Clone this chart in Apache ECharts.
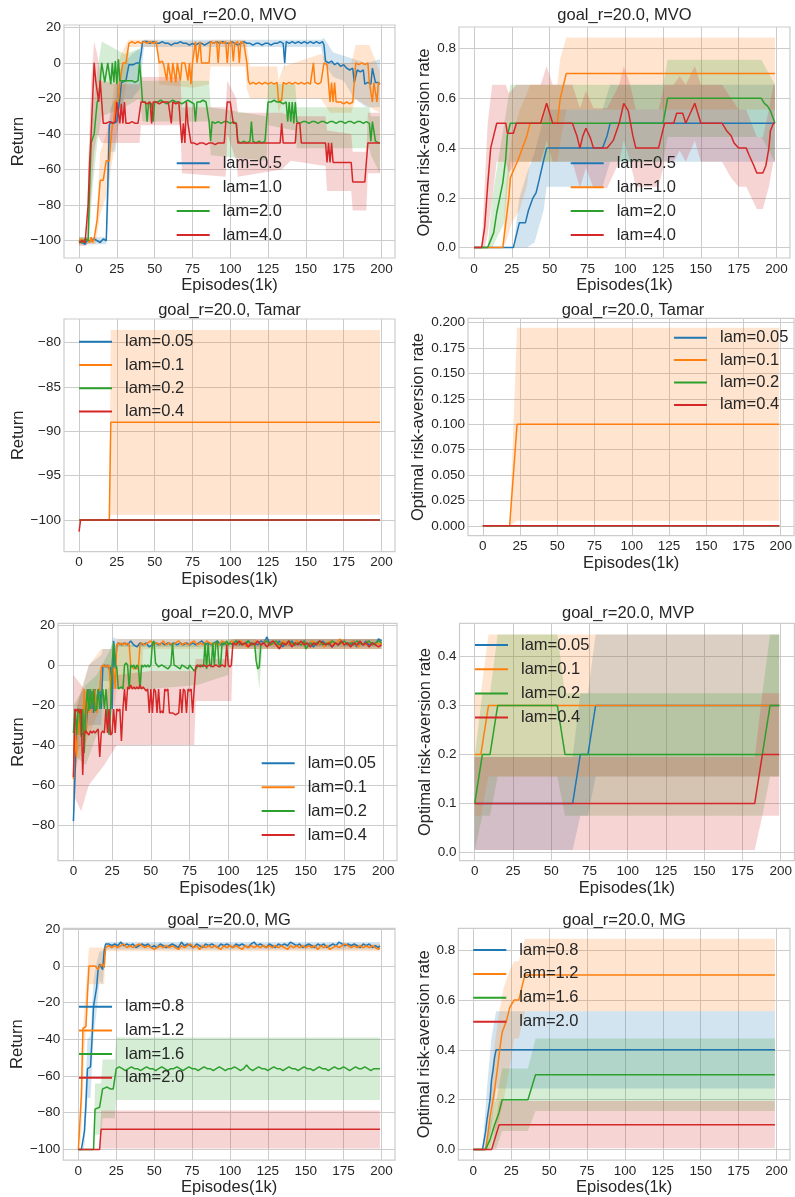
<!DOCTYPE html>
<html><head><meta charset="utf-8">
<script src="https://cdn.jsdelivr.net/npm/echarts@6/dist/echarts.min.js"></script>
<style>html,body{margin:0;padding:0;background:#fff}#c{width:795px;height:1197px}</style>
</head><body><div id="c"></div>
<script>
// ---------------- DATA ----------------
const xTickVals = [0,25,50,75,100,125,150,175,200];
const xTickLabels = ['0','25','50','75','100','125','150','175','200'];
const retTicksA = [-100,-80,-60,-40,-20,0,20];
const retLabelsA = ['\u2212100','\u221280','\u221260','\u221240','\u221220','0','20'];
const retTicksB = [-100,-95,-90,-85,-80];
const retLabelsB = ['\u2212100','\u221295','\u221290','\u221285','\u221280'];
const retTicksC = [-80,-60,-40,-20,0,20];
const retLabelsC = ['\u221280','\u221260','\u221240','\u221220','0','20'];
const rateTicksA = [0,0.2,0.4,0.6,0.8];
const rateLabelsA = ['0.0','0.2','0.4','0.6','0.8'];
const rateTicksB = [0,0.025,0.05,0.075,0.1,0.125,0.15,0.175,0.2];
const rateLabelsB = ['0.000','0.025','0.050','0.075','0.100','0.125','0.150','0.175','0.200'];
const rateTicksC = [0,0.1,0.2,0.3,0.4];
const rateLabelsC = ['0.0','0.1','0.2','0.3','0.4'];

const titles = ['goal_r=20.0, MVO','goal_r=20.0, MVO','goal_r=20.0, Tamar','goal_r=20.0, Tamar','goal_r=20.0, MVP','goal_r=20.0, MVP','goal_r=20.0, MG','goal_r=20.0, MG'];
const lamMVO = ['lam=0.5','lam=1.0','lam=2.0','lam=4.0'];
const lamTamar = ['lam=0.05','lam=0.1','lam=0.2','lam=0.4'];
const lamMVP = ['lam=0.05','lam=0.1','lam=0.2','lam=0.4'];
const lamMG = ['lam=0.8','lam=1.2','lam=1.6','lam=2.0'];

// MVO return
const mvoRet05 = [[0,-100],[1,-99],[2,-101],[3,-100],[4,-102],[5,-100],[6,-101],[8,-100],[10,-99],[12,-100],[14,-101],[16,-99],[18,-100],[19,-70],[20,-35],[21,-33],[23,-34],[25,-33],[26,-33],[27,-20],[28,-11],[29,-10],[31,-10],[32,-9],[33,-1],[34,0],[36,-1],[38,0],[40,0],[41,5],[42,12],[43,11],[45,12],[47,11],[49,12],[51,11],[53,11],[55,12],[57,11],[59,11],[61,10],[63,11],[65,11],[67,12],[69,11],[71,11],[73,10],[75,11],[77,10],[79,11],[81,11],[83,10],[85,11],[86,10],[87,12],[89,11],[91,12],[93,11],[95,12],[97,11],[99,11],[101,12],[103,11],[105,10],[107,11],[109,12],[111,11],[113,11],[115,10],[117,11],[119,11],[121,10],[123,11],[125,11],[127,10],[129,11],[131,11],[133,12],[135,11],[136,0],[137,12],[139,11],[141,12],[143,11],[145,12],[147,11],[149,12],[151,11],[153,12],[155,11],[157,12],[159,11],[161,12],[162,10],[163,1],[165,0],[167,1],[169,-1],[171,0],[173,-2],[175,-1],[177,-3],[179,-4],[181,-3],[182,-11],[183,-10],[184,-4],[186,-5],[188,-4],[189,-12],[191,-11],[193,-12],[194,-3],[195,-2],[196,-11],[197,-12],[198,-11],[199,-12]];
const mvoRet10 = [[0,-100],[1,-101],[2,-99],[3,-101],[4,-100],[5,-99],[6,-100],[7,-101],[8,-98],[9,-101],[10,-99],[11,-100],[12,-88],[13,-88],[14,-66],[16,-66],[17,-66],[18,-55],[19,-54],[20,-55],[21,-44],[22,-35],[23,-33],[24,-22],[25,-22],[26,-21],[27,-11],[28,-10],[29,0],[30,1],[31,0],[32,0],[33,11],[35,12],[37,11],[39,12],[41,11],[43,12],[45,11],[47,12],[49,11],[51,12],[52,11],[53,0],[55,1],[56,-1],[57,0],[58,-10],[59,0],[60,-1],[61,-11],[62,0],[63,-1],[64,-11],[65,0],[66,0],[67,-10],[68,0],[69,-1],[70,0],[72,-10],[73,0],[74,-12],[75,0],[76,1],[77,12],[78,0],[79,0],[80,12],[81,0],[82,1],[84,0],[85,1],[86,0],[87,12],[89,11],[91,12],[92,0],[93,12],[95,11],[97,12],[98,0],[99,11],[101,12],[102,1],[103,11],[105,12],[106,0],[107,12],[109,11],[110,11],[111,0],[112,-10],[113,-12],[115,-11],[117,-12],[119,-11],[121,-12],[123,-11],[125,-12],[127,-11],[129,-12],[131,-11],[132,-22],[133,-22],[134,-21],[135,-11],[137,-12],[139,-11],[141,-12],[143,-11],[145,-12],[147,-11],[149,-12],[151,-11],[153,-12],[154,-11],[155,0],[156,-11],[158,-12],[160,-11],[161,-12],[162,0],[163,0],[164,-1],[165,0],[166,-22],[167,-11],[168,-22],[169,-11],[170,-22],[171,-23],[173,-22],[175,-23],[177,-22],[179,-23],[181,-22],[182,-11],[183,0],[185,-1],[187,0],[189,-1],[191,0],[192,-11],[193,-12],[194,-22],[195,-11],[196,-12],[197,-22],[198,-11],[199,-12]];
const mvoRet20 = [[0,-100],[1,-99],[2,-101],[3,-100],[4,-99],[5,-100],[6,-100],[7,-70],[8,-45],[9,-44],[10,-40],[11,-40],[12,-22],[13,-20],[14,-10],[15,0],[16,1],[17,-11],[18,-12],[19,0],[20,1],[21,-12],[22,0],[23,-11],[24,1],[25,-12],[26,2],[27,-10],[28,-11],[29,-10],[30,-11],[31,-10],[32,-10],[33,-10],[34,-11],[35,-10],[36,-10],[37,-11],[38,-10],[39,-10],[40,0],[41,-10],[42,-22],[44,-22],[45,-33],[46,-22],[48,-23],[49,-33],[50,-22],[52,-22],[54,-21],[56,-22],[58,-23],[60,-22],[62,-21],[64,-22],[66,-22],[68,-23],[70,-22],[72,-21],[74,-22],[76,-23],[77,-33],[78,-22],[80,-22],[82,-21],[84,-22],[85,-22],[86,-33],[87,-44],[88,-33],[90,-34],[92,-33],[94,-34],[96,-33],[98,-33],[100,-34],[102,-33],[104,-34],[105,-44],[107,-45],[109,-44],[111,-45],[113,-44],[114,-33],[115,-44],[117,-45],[119,-44],[121,-45],[123,-44],[124,-45],[125,-22],[127,-22],[129,-21],[131,-22],[133,-22],[135,-23],[137,-22],[138,-33],[139,-22],[140,-33],[141,-22],[142,-34],[143,-22],[144,-33],[146,-34],[148,-33],[150,-33],[152,-34],[154,-33],[156,-33],[158,-34],[160,-33],[162,-33],[164,-34],[166,-33],[168,-33],[170,-34],[172,-33],[174,-33],[176,-34],[178,-33],[180,-33],[182,-34],[184,-33],[186,-33],[188,-34],[190,-33],[192,-34],[193,-44],[194,-33],[195,-34],[196,-44],[197,-45],[198,-45],[199,-45]];
const mvoRet40 = [[0,-101],[1,-101],[2,-100],[3,-101],[4,-101],[5,-100],[6,-80],[7,-56],[8,-40],[9,-20],[10,0],[11,-10],[12,-11],[13,-22],[14,-10],[15,-22],[16,-34],[17,-33],[18,-34],[19,-34],[20,-33],[21,-34],[22,-34],[23,-33],[24,-33],[25,-22],[26,-22],[27,-34],[28,-23],[29,-34],[30,-22],[31,-34],[32,-34],[33,-34],[34,-34],[35,-33],[36,-34],[37,-34],[38,-33],[39,-34],[40,-34],[41,-22],[43,-22],[45,-23],[47,-22],[48,-34],[49,-22],[51,-22],[53,-23],[55,-22],[57,-22],[59,-22],[60,-22],[61,-34],[62,-22],[63,-22],[64,-23],[65,-22],[66,-22],[67,-34],[68,-45],[69,-34],[70,-45],[71,-22],[72,-34],[73,-34],[74,-45],[76,-45],[78,-46],[80,-45],[82,-45],[84,-46],[86,-45],[88,-45],[90,-46],[92,-45],[94,-45],[96,-45],[97,-45],[98,-22],[100,-22],[101,-22],[102,-34],[104,-34],[105,-45],[107,-45],[109,-45],[111,-45],[113,-45],[115,-45],[117,-45],[119,-45],[121,-45],[123,-45],[125,-45],[127,-45],[129,-45],[131,-45],[133,-45],[134,-34],[135,-45],[137,-45],[139,-45],[141,-45],[143,-45],[144,-34],[145,-34],[146,-34],[147,-45],[149,-45],[151,-45],[153,-45],[155,-45],[157,-45],[159,-45],[161,-45],[163,-45],[164,-56],[165,-45],[166,-56],[167,-45],[168,-56],[170,-56],[172,-56],[174,-56],[176,-56],[178,-56],[180,-56],[181,-67],[183,-67],[185,-67],[187,-67],[189,-67],[190,-67],[191,-45],[193,-45],[195,-45],[197,-45],[199,-45]];
// bands: [x, low, high]
const mvoRetBand05 = [[0,-102,-98],[18,-102,-98],[19,-90,-40],[21,-50,-25],[24,-50,-20],[26,-35,-5],[30,-20,0],[35,-20,5],[40,-15,8],[43,9,13],[135,9,13],[136,-5,13],[137,9,13],[160,9,13],[162,0,14],[168,-8,6],[175,-10,4],[182,-20,2],[190,-25,0],[199,-25,2]];
const mvoRetBand10 = [[0,-102,-98],[11,-102,-98],[12,-96,-80],[14,-85,-50],[18,-75,-40],[21,-60,-30],[24,-45,-5],[28,-25,5],[32,-10,12],[33,9,13],[52,9,13],[53,-12,12],[75,-14,12],[86,-12,12],[87,-2,13],[110,-2,13],[111,-15,10],[113,-20,-2],[131,-20,-2],[132,-28,-10],[135,-20,-2],[160,-20,5],[166,-28,0],[180,-28,0],[183,-20,10],[192,-25,10],[199,-28,-5]];
const mvoRetBand20 = [[0,-102,-98],[6,-102,-98],[7,-95,-55],[9,-70,-25],[12,-45,-5],[15,-30,12],[30,-25,5],[40,-20,8],[42,-33,-10],[86,-33,-10],[87,-52,-25],[124,-55,-30],[125,-35,-12],[143,-38,-12],[144,-48,-25],[192,-48,-25],[193,-52,-30],[199,-62,-30]];
const mvoRetBand40 = [[0,-103,-99],[5,-103,-99],[6,-95,-60],[8,-75,-10],[10,-50,12],[12,-40,5],[15,-45,-10],[25,-45,-12],[40,-45,-12],[41,-35,-8],[67,-35,-8],[68,-62,-25],[97,-64,-25],[98,-40,-10],[104,-55,-20],[105,-64,-28],[134,-60,-28],[140,-55,-30],[163,-58,-30],[164,-72,-38],[180,-72,-40],[181,-83,-50],[190,-83,-50],[191,-62,-28],[199,-62,-28]];

// MVO rate
const mvoRate05 = [[0,0],[26,0],[28,0.05],[30,0.1],[34,0.1],[36,0.15],[39,0.2],[41,0.22],[43,0.27],[46,0.35],[48,0.4],[85,0.4],[88,0.45],[90,0.5],[199,0.5]];
const mvoRate10 = [[0,0],[19,0],[21,0.1],[23,0.2],[24,0.28],[26,0.31],[29,0.35],[32,0.4],[35,0.45],[37,0.5],[55,0.5],[57,0.6],[59,0.65],[61,0.7],[199,0.7]];
const mvoRate20 = [[0,0],[9,0],[11,0.03],[13,0.06],[15,0.14],[17,0.2],[19,0.26],[21,0.36],[22,0.45],[24,0.5],[125,0.5],[128,0.6],[190,0.6],[192,0.58],[194,0.57],[196,0.55],[199,0.5]];
const mvoRate40 = [[0,0],[5,0],[7,0.08],[9,0.25],[11,0.4],[13,0.45],[15,0.5],[21,0.5],[22,0.46],[26,0.46],[28,0.5],[44,0.5],[46,0.54],[48,0.58],[50,0.54],[52,0.5],[65,0.5],[68,0.45],[70,0.4],[72,0.45],[74,0.48],[77,0.44],[79,0.4],[88,0.4],[92,0.43],[96,0.5],[99,0.58],[102,0.55],[105,0.45],[107,0.4],[122,0.4],[124,0.45],[126,0.5],[132,0.5],[134,0.54],[138,0.54],[140,0.5],[143,0.54],[146,0.58],[148,0.54],[150,0.5],[164,0.5],[167,0.47],[170,0.45],[172,0.42],[175,0.4],[180,0.4],[182,0.37],[185,0.33],[187,0.3],[191,0.3],[193,0.33],[195,0.4],[196,0.47],[198,0.5],[199,0.5]];
const mvoRateBand05 = [[0,0,0],[26,0,0],[30,0,0.2],[35,0,0.3],[40,0.02,0.38],[46,0.15,0.52],[48,0.245,0.555],[85,0.245,0.555],[90,0.345,0.655],[199,0.345,0.655]];
const mvoRateBand10 = [[0,0,0],[19,0,0],[21,0.02,0.25],[25,0.1,0.45],[30,0.15,0.55],[35,0.25,0.62],[37,0.345,0.655],[55,0.345,0.655],[57,0.42,0.76],[61,0.555,0.845],[199,0.555,0.845]];
const mvoRateBand20 = [[0,0,0],[9,0,0],[12,0,0.2],[16,0.05,0.35],[20,0.1,0.5],[24,0.345,0.655],[125,0.345,0.655],[128,0.445,0.755],[190,0.445,0.755],[199,0.345,0.655]];
const mvoRateBand40 = [[0,0,0],[5,0,0],[7,0,0.25],[9,0.05,0.5],[12,0.2,0.655],[15,0.345,0.655],[21,0.345,0.655],[23,0.3,0.62],[28,0.345,0.655],[44,0.345,0.655],[48,0.43,0.73],[52,0.345,0.655],[65,0.345,0.655],[70,0.24,0.56],[74,0.32,0.63],[79,0.24,0.56],[88,0.24,0.56],[96,0.345,0.655],[99,0.43,0.73],[103,0.35,0.66],[107,0.245,0.555],[122,0.245,0.555],[126,0.345,0.655],[132,0.345,0.655],[136,0.39,0.69],[140,0.345,0.655],[146,0.43,0.73],[150,0.345,0.655],[164,0.345,0.655],[170,0.28,0.6],[175,0.245,0.555],[180,0.245,0.555],[187,0.155,0.445],[191,0.155,0.445],[195,0.245,0.555],[198,0.345,0.655],[199,0.345,0.655]];

// Tamar return
const tamarRet005 = [[0,-100],[199,-100]];
const tamarRet01 = [[0,-100],[20,-100],[21,-89],[199,-89]];
const tamarRet02 = [[0,-100],[199,-100]];
const tamarRet04 = [[0,-101.3],[1,-100],[199,-100]];
const tamarRetBand01 = [[20,-100,-100],[21,-99.4,-78.6],[199,-99.4,-78.6]];
// Tamar rate
const tamarRate005 = [[0,0],[199,0]];
const tamarRate01 = [[0,0],[18,0],[23,0.1],[199,0.1]];
const tamarRate02 = [[0,0],[199,0]];
const tamarRate04 = [[0,0],[199,0]];
const tamarRateBand01 = [[18,0,0],[23,0.005,0.195],[199,0.005,0.195]];

// MVP return
const mvpRet005 = [[0,-78],[1,-56],[2,-35],[3,-22],[4,-35],[5,-23],[6,-35],[7,-22],[8,-34],[9,-23],[10,-12],[11,-22],[12,-13],[13,-24],[14,-12],[15,-22],[16,-13],[17,-12],[18,-22],[19,-1],[20,0],[21,-1],[22,0],[23,-2],[24,-1],[25,-22],[26,12],[27,-2],[28,10],[29,11],[31,10],[33,11],[35,10],[37,12],[39,10],[41,9],[43,11],[45,10],[47,11],[49,9],[51,10],[53,11],[55,10],[57,11],[59,10],[61,11],[63,10],[65,11],[67,10],[69,11],[71,10],[73,11],[75,10],[77,11],[79,10],[81,11],[83,12],[85,10],[87,11],[89,10],[91,11],[93,12],[95,10],[97,11],[99,10],[101,11],[103,10],[105,12],[107,10],[109,11],[111,10],[113,12],[115,10],[117,11],[119,10],[121,12],[123,11],[125,14],[127,10],[129,11],[131,10],[133,12],[135,9],[137,11],[139,10],[141,12],[143,10],[145,11],[147,10],[149,12],[151,10],[153,11],[155,9],[157,11],[159,10],[161,12],[163,10],[165,11],[167,9],[169,11],[171,10],[173,12],[175,10],[177,11],[179,10],[181,12],[183,9],[185,11],[187,10],[189,12],[191,10],[193,11],[195,10],[197,13],[199,12]];
const mvpRet01 = [[0,-57],[1,-35],[2,-46],[3,-22],[4,-35],[5,-23],[6,-34],[7,-12],[8,-35],[9,-12],[10,-24],[11,-12],[12,-24],[13,-12],[14,-13],[15,-24],[16,-12],[17,-13],[18,-1],[19,0],[20,-1],[21,0],[22,-1],[23,0],[24,-12],[25,-1],[26,-2],[27,-12],[28,10],[29,11],[30,10],[31,11],[32,10],[33,11],[34,10],[35,11],[36,10],[37,0],[38,-1],[39,-2],[40,-1],[41,-2],[42,-1],[43,10],[44,11],[46,10],[48,11],[50,12],[52,10],[54,11],[56,10],[58,12],[60,10],[62,11],[64,10],[66,11],[68,12],[70,10],[72,11],[74,10],[76,11],[78,12],[80,10],[82,11],[84,10],[86,12],[88,11],[90,10],[92,11],[94,10],[96,12],[98,11],[100,10],[102,12],[104,11],[106,10],[108,12],[110,11],[112,9],[114,11],[116,10],[118,12],[120,11],[122,10],[124,12],[126,11],[128,10],[130,11],[132,9],[134,11],[136,12],[138,10],[140,11],[142,10],[144,12],[146,11],[148,10],[150,11],[152,10],[154,12],[156,11],[158,10],[160,11],[162,9],[164,11],[166,12],[168,10],[170,11],[172,13],[174,10],[176,11],[178,10],[180,12],[182,11],[184,9],[186,11],[188,10],[190,12],[192,11],[194,10],[196,11],[198,10],[199,11]];
const mvpRet02 = [[0,-34],[1,-22],[2,-35],[3,-23],[4,-22],[5,-36],[6,-22],[7,-44],[8,-22],[9,-12],[10,-23],[11,-12],[12,-22],[13,-12],[14,-23],[15,-22],[16,-12],[17,-22],[18,-22],[19,-12],[20,-22],[21,-12],[22,-22],[23,-35],[24,-22],[25,0],[26,11],[27,0],[28,-1],[29,-12],[30,-12],[31,-11],[32,-12],[33,0],[34,1],[35,0],[36,-12],[37,0],[38,-1],[39,0],[40,-2],[41,0],[42,-1],[43,-12],[44,0],[45,-1],[46,0],[47,-1],[48,0],[49,-1],[50,0],[51,11],[52,12],[53,1],[54,0],[55,-1],[57,0],[59,-1],[61,-2],[63,0],[64,11],[65,0],[67,-1],[69,-2],[70,0],[72,-1],[74,-2],[75,0],[77,-2],[78,-3],[80,-1],[82,0],[84,-1],[85,11],[86,-2],[87,11],[88,0],[89,-1],[90,11],[91,0],[92,11],[93,12],[94,0],[95,-1],[96,11],[97,10],[98,11],[99,12],[100,10],[101,11],[103,10],[105,12],[107,11],[109,10],[111,11],[113,12],[115,10],[117,11],[118,2],[119,-2],[120,-1],[121,10],[123,11],[125,12],[127,10],[129,11],[131,12],[133,10],[135,11],[137,10],[139,12],[141,11],[143,10],[145,11],[147,10],[149,12],[150,8],[151,9],[153,11],[155,10],[157,11],[159,12],[161,10],[163,11],[165,10],[167,12],[169,11],[171,10],[173,11],[175,12],[177,10],[179,11],[181,10],[183,12],[185,11],[187,10],[189,11],[191,12],[193,10],[195,11],[197,12],[199,11]];
const mvpRet04 = [[0,-56],[1,-22],[2,-23],[3,-22],[4,-24],[5,-22],[6,-55],[7,-34],[8,-33],[9,-34],[10,-35],[11,-33],[12,-34],[13,-33],[14,-34],[15,-33],[16,-32],[17,-46],[18,-34],[19,-33],[20,-34],[21,-22],[22,-34],[23,-22],[24,-35],[25,-34],[26,-22],[27,-34],[28,-22],[29,-23],[30,-22],[31,-38],[32,-22],[33,-12],[34,-23],[35,-11],[36,-12],[37,-10],[38,-12],[39,-11],[40,-12],[41,-11],[42,-12],[43,-10],[44,-12],[45,-11],[46,-12],[47,-13],[48,-12],[49,-24],[50,-12],[51,-24],[52,-12],[53,-13],[54,-24],[55,-12],[56,-24],[57,-23],[58,-24],[59,-12],[60,-13],[61,-12],[62,-24],[64,-24],[66,-25],[68,-24],[69,-12],[70,-24],[71,-12],[72,-13],[73,-24],[74,-12],[75,-13],[76,-12],[77,-24],[78,-12],[79,-1],[80,0],[82,-1],[84,0],[86,-1],[88,0],[90,-1],[92,0],[94,-1],[96,0],[98,-1],[99,10],[100,0],[101,-1],[102,0],[103,11],[105,10],[107,12],[109,10],[111,11],[113,9],[115,11],[117,10],[119,12],[121,10],[123,11],[125,9],[127,11],[129,12],[131,10],[133,8],[135,11],[137,10],[139,12],[141,9],[143,11],[145,10],[147,12],[149,10],[151,11],[153,9],[155,11],[157,10],[159,12],[161,11],[163,10],[165,11],[167,9],[169,11],[171,10],[173,12],[175,10],[177,11],[179,9],[181,11],[183,10],[185,12],[187,10],[189,11],[191,9],[193,11],[195,10],[197,9],[199,10]];
const mvpRetBand005 = [[0,-92,-64],[1,-66,-46],[2,-45,-22],[10,-30,0],[18,-30,5],[19,-8,8],[24,-8,8],[25,-30,12],[26,6,14],[28,6,13],[29,9,13],[199,9,13]];
const mvpRetBand01 = [[0,-65,-45],[2,-50,-20],[10,-35,0],[18,-20,8],[27,-20,8],[28,-12,13],[44,-12,13],[45,8,13],[199,8,13]];
const mvpRetBand02 = [[0,-45,-20],[8,-50,-10],[15,-35,-5],[24,-30,8],[25,-12,10],[50,-12,10],[80,-10,11],[100,-5,12],[101,8,13],[117,8,13],[119,-5,12],[120,-12,12],[122,8,13],[199,8,13]];
const mvpRetBand04 = [[0,-65,-5],[5,-73,-10],[10,-60,-15],[15,-55,-15],[20,-50,-15],[28,-40,-5],[50,-40,-3],[78,-40,-3],[79,-18,3],[102,-18,3],[103,8,13],[199,8,13]];

// MVP rate
const mvpRate005 = [[0,0.1],[64,0.1],[69,0.2],[74,0.2],[79,0.3],[199,0.3]];
const mvpRate01 = [[0,0.2],[4,0.2],[9,0.3],[199,0.3]];
const mvpRate02 = [[0,0.1],[5,0.2],[10,0.2],[15,0.3],[54,0.3],[59,0.2],[188,0.2],[193,0.3],[199,0.3]];
const mvpRate04 = [[0,0.1],[183,0.1],[188,0.2],[199,0.2]];
const mvpRateBand005 = [[0,0.005,0.195],[64,0.005,0.195],[69,0.075,0.325],[74,0.075,0.325],[79,0.155,0.445],[199,0.155,0.445]];
const mvpRateBand01 = [[0,0.075,0.325],[4,0.075,0.325],[9,0.155,0.445],[199,0.155,0.445]];
const mvpRateBand02 = [[0,0.005,0.195],[5,0.075,0.325],[10,0.075,0.325],[15,0.155,0.445],[54,0.155,0.445],[59,0.075,0.325],[188,0.075,0.325],[193,0.155,0.445],[199,0.155,0.445]];
const mvpRateBand04 = [[0,0.005,0.195],[183,0.005,0.195],[188,0.075,0.325],[199,0.075,0.325]];

// MG return
const mgRet08 = [[0,-100],[1,-100],[2,-100],[3,-100],[4,-90],[5,-75],[6,-56],[7,-55],[8,-55],[9,-40],[10,-22],[11,-21],[12,-12],[13,-2],[14,1],[15,2],[16,-2],[17,8],[18,12],[19,11],[20,12],[22,11],[24,12],[26,11],[28,13],[30,11],[32,12],[34,11],[36,12],[38,10],[40,11],[42,12],[44,11],[46,12],[48,10],[50,11],[52,10],[54,12],[56,11],[58,10],[60,11],[62,12],[64,11],[66,10],[68,13],[70,11],[72,12],[74,11],[76,10],[78,12],[80,11],[82,10],[84,12],[86,11],[88,12],[90,11],[92,10],[94,12],[96,11],[98,12],[100,11],[102,10],[104,12],[106,11],[108,12],[110,11],[112,10],[114,12],[116,13],[118,11],[120,12],[122,11],[124,10],[126,12],[128,11],[130,10],[132,12],[134,11],[136,12],[138,11],[140,13],[142,12],[144,11],[146,12],[148,10],[150,11],[152,12],[154,11],[156,10],[158,12],[160,11],[162,12],[164,10],[166,11],[168,12],[170,11],[172,13],[174,12],[176,11],[178,12],[180,11],[182,12],[184,11],[186,10],[188,12],[190,11],[192,12],[194,10],[196,11],[198,10],[199,11]];
const mgRet12 = [[0,-100],[1,-100],[2,-70],[3,-34],[4,-34],[5,-33],[6,-15],[7,0],[8,-1],[9,0],[10,-1],[11,0],[12,-1],[13,-2],[14,0],[15,-1],[16,1],[17,-1],[18,10],[19,10],[20,11],[22,10],[24,11],[26,10],[28,11],[30,12],[32,10],[34,11],[36,10],[38,11],[40,12],[42,11],[44,10],[46,11],[48,10],[50,9],[52,10],[54,11],[56,10],[58,11],[60,10],[62,11],[64,10],[66,9],[68,11],[70,10],[72,11],[74,12],[76,10],[78,11],[80,9],[82,11],[84,10],[86,11],[88,10],[90,11],[92,10],[94,9],[96,11],[98,10],[100,11],[102,10],[104,11],[106,10],[108,9],[110,11],[112,10],[114,11],[116,10],[118,11],[120,10],[122,11],[124,10],[126,11],[128,10],[130,11],[132,10],[134,11],[136,10],[138,9],[140,11],[142,10],[144,11],[146,10],[148,11],[150,10],[152,11],[154,10],[156,11],[158,9],[160,11],[162,10],[164,11],[166,9],[168,10],[170,11],[172,10],[174,11],[176,12],[178,11],[180,10],[182,11],[184,10],[186,11],[188,10],[190,11],[192,10],[194,11],[196,10],[198,9],[199,10]];
const mgRet16 = [[0,-100],[10,-100],[11,-78],[12,-78],[14,-77],[15,-78],[16,-67],[17,-67],[19,-66],[21,-67],[23,-67],[24,-67],[25,-56],[27,-55],[29,-56],[31,-57],[33,-56],[35,-55],[37,-56],[39,-56],[41,-57],[43,-56],[45,-55],[47,-56],[49,-56],[51,-57],[53,-56],[55,-55],[57,-56],[59,-57],[61,-56],[63,-56],[65,-55],[67,-56],[69,-57],[71,-56],[73,-55],[75,-56],[77,-56],[79,-57],[81,-56],[83,-55],[85,-56],[87,-56],[89,-57],[91,-56],[93,-55],[95,-56],[97,-57],[99,-56],[101,-56],[103,-55],[105,-56],[107,-57],[109,-56],[111,-54],[113,-56],[115,-57],[117,-56],[119,-55],[121,-56],[123,-56],[125,-57],[127,-56],[129,-55],[131,-56],[133,-56],[135,-57],[137,-56],[139,-55],[141,-56],[143,-56],[145,-57],[147,-56],[149,-55],[151,-56],[153,-56],[155,-57],[157,-56],[159,-55],[161,-56],[163,-56],[165,-57],[167,-56],[169,-55],[171,-56],[173,-56],[175,-55],[177,-56],[179,-57],[181,-56],[183,-55],[185,-56],[187,-56],[189,-55],[191,-56],[193,-57],[195,-56],[197,-56],[199,-56]];
const mgRet20 = [[0,-100],[14,-100],[15,-89],[199,-89]];
const mgRetBand08 = [[0,-100,-100],[3,-100,-100],[4,-98,-80],[6,-72,-40],[8,-72,-38],[10,-38,-8],[12,-25,2],[14,-8,8],[16,-10,8],[18,9,13],[199,9,13]];
const mgRetBand12 = [[0,-100,-100],[1,-100,-100],[2,-90,-50],[4,-45,-22],[6,-25,0],[7,-10,10],[17,-10,10],[18,8,12],[199,8,12]];
const mgRetBand16 = [[0,-100,-100],[10,-100,-100],[11,-92,-64],[15,-92,-64],[16,-83,-51],[24,-83,-51],[25,-73,-39],[199,-73,-39]];
const mgRetBand20 = [[0,-100,-100],[14,-100,-100],[15,-99.5,-78.8],[199,-99.5,-78.8]];

// MG rate
const mgRate08 = [[0,0],[6,0],[8,0.07],[9,0.12],[11,0.2],[12,0.28],[13,0.32],[14,0.37],[15,0.4],[199,0.4]];
const mgRate12 = [[0,0],[8,0],[10,0.08],[11,0.13],[13,0.2],[14,0.24],[16,0.33],[18,0.43],[19,0.47],[22,0.52],[24,0.57],[27,0.6],[30,0.6],[32,0.65],[34,0.7],[199,0.7]];
const mgRate16 = [[0,0],[8,0],[11,0.04],[14,0.1],[15,0.1],[17,0.15],[19,0.2],[36,0.2],[41,0.3],[199,0.3]];
const mgRate20 = [[0,0],[12,0],[17,0.1],[199,0.1]];
const mgRateBand08 = [[0,0,0],[6,0,0],[9,0,0.25],[12,0.1,0.45],[15,0.245,0.555],[199,0.245,0.555]];
const mgRateBand12 = [[0,0,0],[8,0,0],[11,0,0.25],[14,0.07,0.42],[17,0.12,0.55],[20,0.2,0.65],[24,0.33,0.72],[27,0.445,0.755],[30,0.445,0.755],[34,0.555,0.845],[199,0.555,0.845]];
const mgRateBand16 = [[0,0,0],[8,0,0],[14,0.005,0.195],[15,0.005,0.195],[19,0.075,0.325],[36,0.075,0.325],[41,0.155,0.445],[199,0.155,0.445]];
const mgRateBand20 = [[0,0,0],[12,0,0],[17,0.005,0.195],[199,0.005,0.195]];

// ---------------- STYLE / LAYOUT ----------------
const COLORS = ['#1f77b4','#ff7f0e','#2ca02c','#d62728'];
const BANDS = ['rgba(31,119,180,0.2)','rgba(255,127,14,0.2)','rgba(44,160,44,0.2)','rgba(214,39,40,0.2)'];
const FONT = '"Liberation Sans", Arial, sans-serif';
const TXT = '#262626';
const GRIDC = '#cccccc';

const panels = [
  {lines:[mvoRet05,mvoRet10,mvoRet20,mvoRet40], bands:[mvoRetBand05,mvoRetBand10,mvoRetBand20,mvoRetBand40], names:lamMVO, yName:'Return', yt:retTicksA, yl:retLabelsA,
   g:{left:64,top:25,width:331,height:233}, ymin:-109.7, ymax:21.3, yGap:37.5, titleY:7, leg:{left:176.7,top:154.3,gap:5.9}},
  {lines:[mvoRate05,mvoRate10,mvoRate20,mvoRate40], bands:[mvoRateBand05,mvoRateBand10,mvoRateBand20,mvoRateBand40], names:lamMVO, yName:'Optimal risk-aversion rate', yt:rateTicksA, yl:rateLabelsA,
   g:{left:459,top:27,width:331,height:231}, ymin:-0.042, ymax:0.887, yGap:22.5, titleY:7, leg:{left:570.7,top:154.3,gap:5.9}},
  {lines:[tamarRet005,tamarRet01,tamarRet02,tamarRet04], bands:[null,tamarRetBand01,null,null], names:lamTamar, yName:'Return', yt:retTicksB, yl:retLabelsB,
   g:{left:64,top:319,width:331,height:232.7}, ymin:-103.56, ymax:-77.37, yGap:37.5, titleY:302, leg:{left:79,top:332.7,gap:5.3}},
  {lines:[tamarRate005,tamarRate01,tamarRate02,tamarRate04], bands:[null,tamarRateBand01,null,null], names:lamTamar, yName:'Optimal risk-aversion rate', yt:rateTicksB, yl:rateLabelsB,
   g:{left:468,top:318.3,width:330,height:217.4}, ymin:-0.00975, ymax:0.2043, yGap:31.5, titleY:302, leg:{left:674,top:328.7,gap:4.4}},
  {lines:[mvpRet005,mvpRet01,mvpRet02,mvpRet04], bands:[mvpRetBand005,mvpRetBand01,mvpRetBand02,mvpRetBand04], names:lamMVP, yName:'Return', yt:retTicksC, yl:retLabelsC,
   g:{left:58,top:623.3,width:339,height:237.4}, ymin:-97.8, ymax:20.8, yGap:31.5, titleY:605, leg:{left:261.7,top:754.3,gap:5.9}},
  {lines:[mvpRate005,mvpRate01,mvpRate02,mvpRate04], bands:[mvpRateBand005,mvpRateBand01,mvpRateBand02,mvpRateBand04], names:lamMVP, yName:'Optimal risk-aversion rate', yt:rateTicksC, yl:rateLabelsC,
   g:{left:459.5,top:623.3,width:337.5,height:237.4}, ymin:-0.017, ymax:0.468, yGap:24, titleY:605, leg:{left:475,top:636,gap:6.2}},
  {lines:[mgRet08,mgRet12,mgRet16,mgRet20], bands:[mgRetBand08,mgRetBand12,mgRetBand16,mgRetBand20], names:lamMG, yName:'Return', yt:retTicksA, yl:retLabelsA,
   g:{left:63.3,top:928.3,width:331.7,height:232.4}, ymin:-105.8, ymax:20.5, yGap:37, titleY:912, leg:{left:79,top:997.7,gap:5.7}},
  {lines:[mgRate08,mgRate12,mgRate16,mgRate20], bands:[mgRateBand08,mgRateBand12,mgRateBand16,mgRateBand20], names:lamMG, yName:'Optimal risk-aversion rate', yt:rateTicksA, yl:rateLabelsA,
   g:{left:458.3,top:928.3,width:331.7,height:232.4}, ymin:-0.042, ymax:0.887, yGap:23.5, titleY:912, leg:{left:473.3,top:941,gap:5.9}}
];

function labeler(ticks, labels){
  return function(v){
    for (let i=0;i<ticks.length;i++) if (Math.abs(ticks[i]-v) < 1e-7) return labels[i];
    return '';
  };
}

function bandSeries(gi, band, color){
  return {
    type:'custom', xAxisIndex:gi, yAxisIndex:gi, z:1, silent:true, animation:false,
    data:[[band[0][0], band[0][1]]],
    renderItem:function(params, api){
      const pts=[];
      for (let i=0;i<band.length;i++) pts.push(api.coord([band[i][0], band[i][2]]));
      for (let i=band.length-1;i>=0;i--) pts.push(api.coord([band[i][0], band[i][1]]));
      return {type:'polygon', shape:{points:pts}, style:{fill:color, stroke:null}};
    }
  };
}

const option = {animation:false, backgroundColor:'#ffffff', grid:[], xAxis:[], yAxis:[], series:[], legend:[], title:[]};

panels.forEach(function(p, gi){
  option.grid.push({left:p.g.left, top:p.g.top, width:p.g.width, height:p.g.height, show:true, borderColor:GRIDC, borderWidth:1.2, containLabel:false});
  option.xAxis.push({type:'value', gridIndex:gi, min:-9.95, max:208.95, interval:25,
    axisLine:{show:false}, axisTick:{show:false, customValues:xTickVals},
    axisLabel:{customValues:xTickVals, margin:4, fontSize:13.5, fontFamily:FONT, color:TXT, formatter:labeler(xTickVals, xTickLabels)},
    splitLine:{show:true, lineStyle:{color:GRIDC, width:1}},
    name:'Episodes(1k)', nameLocation:'middle', nameGap:18, nameTextStyle:{fontSize:16.5, fontFamily:FONT, color:TXT}});
  const step = p.yt[1]-p.yt[0];
  option.yAxis.push({type:'value', gridIndex:gi, min:p.ymin, max:p.ymax, interval:step,
    axisLine:{show:false}, axisTick:{show:false, customValues:p.yt},
    axisLabel:{customValues:p.yt, margin:3, fontSize:13.5, fontFamily:FONT, color:TXT, formatter:labeler(p.yt, p.yl)},
    splitLine:{show:true, lineStyle:{color:GRIDC, width:1}},
    name:p.yName, nameLocation:'middle', nameGap:p.yGap, nameTextStyle:{fontSize:16.5, fontFamily:FONT, color:TXT}});
  p.bands.forEach(function(b, k){ if (b) option.series.push(bandSeries(gi, b, BANDS[k])); });
  const legendData = [];
  p.lines.forEach(function(d, k){
    const nm = 'p'+gi+'|'+p.names[k];
    legendData.push({name:nm, itemStyle:{color:COLORS[k]}});
    option.series.push({type:'line', name:nm, xAxisIndex:gi, yAxisIndex:gi, data:d, symbol:'none', showSymbol:false,
      z:2+k*0.01, lineStyle:{width:1.5, color:COLORS[k]}, itemStyle:{color:COLORS[k]}, animation:false});
  });
  option.legend.push({orient:'vertical', left:p.leg.left, top:p.leg.top, itemGap:p.leg.gap, itemWidth:33, itemHeight:2, icon:'rect',
    padding:0, selectedMode:false, data:legendData, formatter:function(n){return n.split('|')[1];},
    textStyle:{fontSize:16.5, fontFamily:FONT, color:TXT, lineHeight:18, padding:[0,0,0,8]}});
  option.title.push({text:titles[gi], left:p.g.left + p.g.width/2, top:p.titleY, textAlign:'center', padding:0,
    textStyle:{fontSize:16.5, fontWeight:'normal', fontFamily:FONT, color:TXT}});
});

const chart = echarts.init(document.getElementById('c'), null, {renderer:'canvas', width:795, height:1197});
chart.setOption(option);
</script></body></html>
